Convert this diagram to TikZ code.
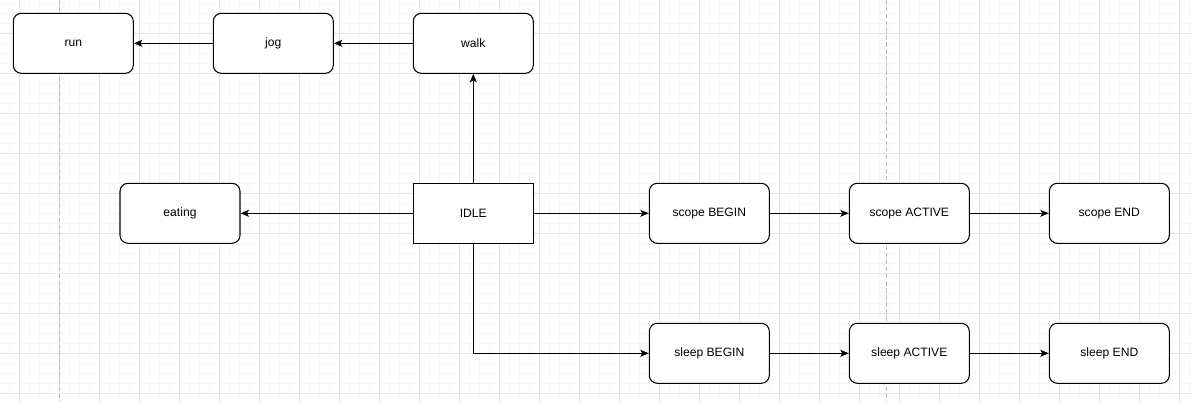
\documentclass[tikz,border=0pt]{standalone}
\usepackage{fontspec}
\setmainfont{Liberation Sans}
\usepackage{tikz}
\usetikzlibrary{arrows.meta}

\begin{document}
\begin{tikzpicture}[x=0.02cm, y=-0.02cm]

		\tikzstyle{state}=[draw, rectangle, fill=white, text=black, line width=0.6pt, rounded corners=0.16cm, minimum width=2.4cm, minimum height=1.2cm, font=\fontsize{6.9}{8}\selectfont]
		\tikzstyle{idle}=[state, rounded corners=0pt]

		% background grid
		\useasboundingbox (0,0) rectangle (1192,402);
		\fill[white] (0,0) rectangle (1192,402);
		\foreach \x in {0,...,118} \draw[gray!6, line width=0.5pt] (9.3+10*\x,0)--(9.3+10*\x,402);
		\foreach \y in {0,...,40} \draw[gray!6, line width=0.5pt] (0,3.3+10*\y)--(1192,3.3+10*\y);
		\foreach \x in {0,...,29} \draw[gray!20, line width=0.5pt] (19.3+40*\x,0)--(19.3+40*\x,402);
		\foreach \y in {0,...,9} \draw[gray!20, line width=0.5pt] (0,33.3+40*\y)--(1192,33.3+40*\y);
		\draw[gray!55, line width=0.5pt, dash pattern=on 2.5pt off 1.5pt] (59.3,0)--(59.3,402);
		\draw[gray!55, line width=0.5pt, dash pattern=on 2.5pt off 1.5pt] (886.7,0)--(886.7,402);

		\node[state] (R) at (73.3,43.3) {run};
		\node[state] (J) at (273.3,43.3) {jog};
		\node[state] (W) at (473.3,43.3) {walk};

		\node[state] (E) at (180,213.3) {eating};
		\node[idle] (I) at (473.3,213.3) {IDLE};

		\node[state] (SB) at (709.3,213.3) {scope BEGIN};
		\node[state] (SA) at (909.3,213.3) {scope ACTIVE};
		\node[state] (SE) at (1109.3,213.3) {scope END};

		\node[state] (LB) at (709.3,353.3) {sleep BEGIN};
		\node[state] (LA) at (909.3,353.3) {sleep ACTIVE};
		\node[state] (LE) at (1109.3,353.3) {sleep END};

		\tikzstyle{link}=[-{Stealth[length=0.17cm, width=0.14cm, inset=0.04cm]}, line width=0.6pt, black]

		\draw[link] (W)--(J);
		\draw[link] (J)--(R);
		\draw[link] (I)--(W);
		\draw[link] (I)--(E);

		\draw[link] (I)--(SB);
		\draw[link] (SB)--(SA);
		\draw[link] (SA)--(SE);

		\draw[link] (I.south) |- (LB.west);
		\draw[link] (LB)--(LA);
		\draw[link] (LA)--(LE);

	\end{tikzpicture}
\end{document}
